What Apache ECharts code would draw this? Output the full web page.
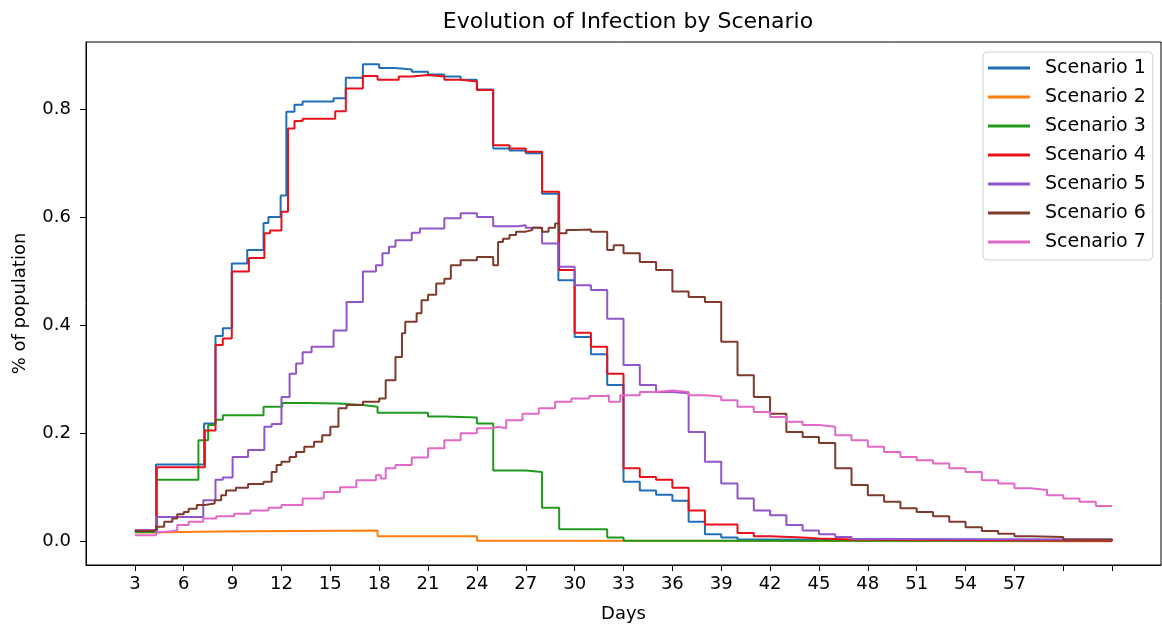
<!DOCTYPE html>
<html>
<head>
<meta charset="utf-8">
<script src="https://cdn.jsdelivr.net/npm/echarts@6/dist/echarts.min.js"></script>
<style>
html,body{margin:0;padding:0;background:#fff;}
#chart{width:1162px;height:628px;}
</style>
</head>
<body>
<div id="chart"></div>
<script>
// ---- data ----
const seriesNames = ['Scenario 1','Scenario 2','Scenario 3','Scenario 4','Scenario 5','Scenario 6','Scenario 7'];
const xTicks = [3,6,9,12,15,18,21,24,27,30,33,36,39,42,45,48,51,54,57,60,63];
const xTickLabels = [3,6,9,12,15,18,21,24,27,30,33,36,39,42,45,48,51,54,57];
const yTicks = [0,0.2,0.4,0.6,0.8];

const s1Days = [3,4.3,7.25,7.95,8.4,8.95,9.9,10.9,11.2,11.95,12.3,12.8,13.3,15.2,15.95,17,18,19,20,21,22,23,24,25,26,27,28,29,30,31,32,33,34,35,36,37,38,39,40,41,63];
const s1Vals = [0.02,0.142,0.218,0.38,0.394,0.514,0.539,0.589,0.6,0.64,0.795,0.808,0.814,0.82,0.858,0.883,0.876,0.873,0.869,0.864,0.86,0.854,0.836,0.727,0.723,0.718,0.643,0.483,0.378,0.346,0.289,0.11,0.094,0.086,0.075,0.036,0.013,0.007,0.003,0.001,0.001];

const s2Days = [3,4.3,6,8,17.9,24,28,63];
const s2Vals = [0.016,0.017,0.018,0.02,0.009,0.001,0.0,0.0];

const s3Days = [3,4.3,6.9,7.5,7.95,8.4,10.9,12.05,13.5,15.5,17,17.9,21,22,24,25,27,28,29.05,32,33,63];
const s3Vals = [0.017,0.114,0.187,0.215,0.225,0.233,0.249,0.256,0.255,0.252,0.249,0.238,0.231,0.229,0.218,0.131,0.128,0.062,0.022,0.007,0.001,0.001];

const s4Days = [3,4.35,7.3,7.95,8.4,8.95,10,10.95,11.3,12,12.4,12.8,13.3,15.3,15.95,17,17.9,19.2,20,21,22,23,24,25,26,27,28,29.05,30,31,32,33,34,35,36,37,38,40,41,42,44,45,47,63];
const s4Vals = [0.02,0.137,0.205,0.363,0.375,0.499,0.524,0.57,0.575,0.61,0.764,0.778,0.782,0.796,0.838,0.861,0.854,0.86,0.863,0.86,0.854,0.851,0.835,0.733,0.727,0.721,0.647,0.502,0.386,0.36,0.31,0.135,0.119,0.114,0.099,0.057,0.031,0.015,0.009,0.007,0.005,0.003,0.001,0.001];

const s5Days = [3,4.3,7.2,7.95,8.4,9,9.95,10.95,11.4,12,12.5,12.9,13.3,13.85,15.2,16,17,17.8,18.2,18.6,19,20,20.5,22,23,24,25,26.5,27,28,29,30,31,32,33,34,35,36,37,38,39,40,41,42,43,44,45,46,47,49,63];
const s5Vals = [0.02,0.045,0.076,0.114,0.118,0.156,0.169,0.212,0.217,0.267,0.31,0.329,0.35,0.36,0.39,0.443,0.499,0.511,0.533,0.545,0.557,0.571,0.579,0.598,0.607,0.6,0.583,0.585,0.58,0.551,0.508,0.474,0.465,0.412,0.326,0.289,0.276,0.274,0.202,0.147,0.107,0.079,0.057,0.048,0.03,0.02,0.013,0.008,0.004,0.003,0.002];

const s6Days = [3,4.3,4.8,5.3,5.6,6,6.3,6.8,7.3,7.9,8.3,8.6,9.2,9.95,10.9,11.4,11.7,12,12.5,12.9,13.4,14,14.5,15,15.5,16,17,18,18.4,19,19.4,19.6,20.3,20.6,21,21.5,22,22.4,23,24,25,25.3,25.6,26,26.4,27,27.4,28,28.4,28.8,29.05,29.5,30,31,32,32.4,33,34,35,36,37,38,39,40,41,42,43,44,45,46,47,48,49,50,51,52,53,54,55,56,57,58,60,63];
const s6Vals = [0.019,0.027,0.036,0.042,0.05,0.054,0.06,0.067,0.07,0.076,0.085,0.094,0.099,0.106,0.11,0.128,0.141,0.147,0.156,0.165,0.175,0.184,0.196,0.212,0.246,0.252,0.258,0.264,0.298,0.341,0.385,0.406,0.422,0.446,0.456,0.477,0.486,0.511,0.52,0.526,0.511,0.554,0.56,0.567,0.573,0.576,0.58,0.573,0.58,0.588,0.57,0.576,0.577,0.573,0.539,0.548,0.533,0.517,0.502,0.462,0.452,0.443,0.369,0.307,0.267,0.236,0.202,0.193,0.182,0.135,0.104,0.085,0.073,0.061,0.054,0.046,0.036,0.026,0.019,0.014,0.009,0.008,0.003,0.001];

const s7Days = [3,4.3,4.8,5.6,6.3,7.2,8,9.1,10.1,11.2,12,13.3,14.6,15.6,16.6,17.8,18.1,18.4,19,20,21,22,23,24,25,25.3,25.8,26.8,27.8,28.8,29.8,30.9,31.9,32.1,32.8,34,35,36,37,38,39,40,41,42,43,44,45,46,47,48,49,50,51,52,53,54,55,56,57,58,59,60,61,62,63];
const s7Vals = [0.011,0.017,0.02,0.03,0.036,0.042,0.046,0.051,0.057,0.062,0.067,0.079,0.091,0.1,0.113,0.122,0.116,0.135,0.141,0.155,0.172,0.187,0.2,0.209,0.212,0.209,0.224,0.236,0.246,0.258,0.264,0.269,0.27,0.258,0.27,0.276,0.279,0.276,0.27,0.268,0.261,0.249,0.239,0.23,0.221,0.215,0.212,0.196,0.187,0.175,0.165,0.156,0.15,0.144,0.135,0.128,0.113,0.107,0.098,0.095,0.085,0.079,0.073,0.065,0.065];

const colors = ['#1f6fb8','#ff7f0e','#1f9a1f','#e8101a','#9055c8','#7e3b2c','#e268c8'];

// ---- build ----
const allDays = [s1Days,s2Days,s3Days,s4Days,s5Days,s6Days,s7Days];
const allVals = [s1Vals,s2Vals,s3Vals,s4Vals,s5Vals,s6Vals,s7Vals];
const FONT = 'DejaVu Sans';

const series = seriesNames.map((name, i) => ({
  name: name,
  type: 'line',
  step: 'end',
  showSymbol: false,
  symbol: 'none',
  data: allDays[i].map((d, j) => [d, allVals[i][j]]),
  lineStyle: { width: 2, color: colors[i] },
  itemStyle: { color: colors[i] },
  emphasis: { disabled: true }
}));

const chart = echarts.init(document.getElementById('chart'), null, { renderer: 'canvas' });
chart.setOption({
  animation: false,
  backgroundColor: '#fff',
  title: {
    text: 'Evolution of Infection by Scenario',
    left: 623, textAlign: 'center', top: 6,
    textStyle: { fontFamily: FONT, fontSize: 22, fontWeight: 'normal', color: '#000' }
  },
  grid: {
    left: 86, right: 1, top: 42, bottom: 63,
    show: true, borderColor: '#000', borderWidth: 1, backgroundColor: 'transparent'
  },
  legend: {
    orient: 'vertical',
    left: 983, top: 52,
    icon: 'rect', itemWidth: 42, itemHeight: 3, itemGap: 9,
    padding: [6, 7, 8, 5],
    backgroundColor: '#fff', borderColor: '#d0d0d0', borderWidth: 1, borderRadius: 4,
    textStyle: { fontFamily: FONT, fontSize: 19, color: '#000', lineHeight: 20, padding: [0, 0, 0, 10] },
    data: seriesNames
  },
  xAxis: {
    type: 'value', min: 0, max: 66,
    name: 'Days', nameLocation: 'middle', nameGap: 40,
    nameTextStyle: { fontFamily: FONT, fontSize: 18, color: '#000' },
    axisLine: { show: true, onZero: false, lineStyle: { color: '#000', width: 1 } },
    axisTick: { show: true, inside: false, length: 6, lineStyle: { color: '#000' }, customValues: xTicks },
    axisLabel: { fontFamily: FONT, fontSize: 18, color: '#000', margin: 10, customValues: xTickLabels },
    splitLine: { show: false }
  },
  yAxis: {
    type: 'value', min: -0.044, max: 0.924,
    name: '% of population', nameLocation: 'middle', nameGap: 57, nameRotate: 90,
    nameTextStyle: { fontFamily: FONT, fontSize: 18, color: '#000' },
    axisLine: { show: true, onZero: false, lineStyle: { color: '#000', width: 1 } },
    axisTick: { show: true, inside: false, length: 6, lineStyle: { color: '#000' }, customValues: yTicks },
    axisLabel: { fontFamily: FONT, fontSize: 18, color: '#000', margin: 15, customValues: yTicks,
      formatter: v => Number(v).toFixed(1) },
    splitLine: { show: false }
  },
  series: series
});
</script>
</body>
</html>
